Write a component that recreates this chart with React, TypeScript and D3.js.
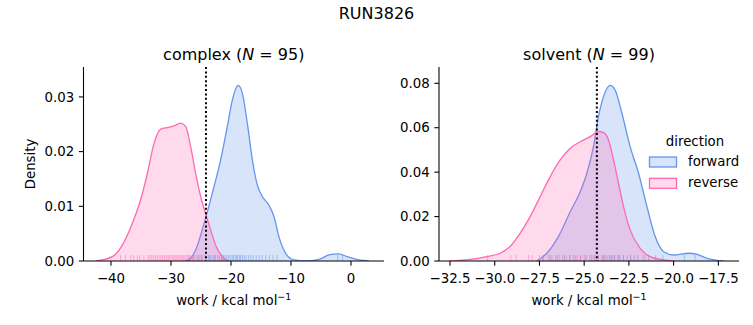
import React from "react";
import * as d3 from "d3";

// ---------- data ----------
const suptitle = "RUN3826";
const directions = ["forward", "reverse"];
const colors = ["#6495ED", "#FF69B4"];

// complex panel density curves [work, density]
const complexForward: [number, number][] = [
  [-27.6, 0], [-27.0, 0.0002], [-25.9, 0.002], [-24.17, 0.0081], [-22.83, 0.0136], [-21.72, 0.0185],
  [-20.61, 0.0246], [-19.78, 0.0294], [-18.83, 0.0321], [-18.11, 0.0307], [-17.28, 0.0252],
  [-16.44, 0.0185], [-15.61, 0.0139], [-14.78, 0.0118], [-13.67, 0.0102], [-12.83, 0.0081],
  [-12.0, 0.0044], [-10.89, 0.0014], [-9.5, 0.0002], [-7.56, 0], [-5.33, 0.0003], [-3.67, 0.0011],
  [-2.11, 0.0013], [-0.61, 0.0008], [1.33, 0.0002], [3.0, 0],
];
const complexReverse: [number, number][] = [
  [-42.56, 0], [-39.78, 0.0008], [-38.11, 0.0029], [-36.44, 0.0069], [-35.06, 0.0112], [-33.94, 0.016],
  [-32.83, 0.0215], [-31.72, 0.0241], [-30.61, 0.0244], [-29.5, 0.0247], [-28.39, 0.0252],
  [-27.56, 0.0246], [-26.72, 0.0209], [-25.89, 0.016], [-25.06, 0.0118], [-24.22, 0.0086],
  [-23.39, 0.0057], [-22.56, 0.0029], [-21.44, 0.0008], [-20.33, 0],
];
// solvent panel density curves
const solventForward: [number, number][] = [
  [-27.65, 0], [-27.09, 0.0035], [-26.44, 0.011], [-25.78, 0.0222], [-25.22, 0.0312], [-24.85, 0.0395],
  [-24.48, 0.0515], [-24.2, 0.065], [-23.92, 0.074], [-23.55, 0.0791], [-23.27, 0.077],
  [-22.89, 0.0665], [-22.43, 0.0515], [-21.96, 0.0395], [-21.49, 0.0245], [-21.03, 0.011],
  [-20.56, 0.0042], [-20.0, 0.0027], [-19.16, 0.0035], [-18.69, 0.003], [-18.13, 0.0012],
  [-17.57, 0.0003], [-17.2, 0],
];
const solventReverse: [number, number][] = [
  [-32.5, 0], [-31.38, 0.0007], [-30.45, 0.002], [-29.7, 0.0035], [-29.14, 0.0065], [-28.58, 0.0125],
  [-28.02, 0.02], [-27.46, 0.029], [-26.9, 0.038], [-26.34, 0.0455], [-25.78, 0.0508],
  [-25.22, 0.0537], [-24.66, 0.056], [-24.2, 0.0583], [-23.92, 0.0578], [-23.64, 0.0545],
  [-23.36, 0.0455], [-23.08, 0.035], [-22.8, 0.0245], [-22.43, 0.014], [-21.87, 0.0057],
  [-21.31, 0.002], [-20.56, 0.0005], [-20.0, 0],
];

// rug samples
const complexForwardRug = [-27.0, -26.2, -25.5, -24.9, -24.3, -23.8, -23.4, -23.0, -22.6, -22.2, -21.9, -21.6, -21.3, -21.0, -20.7, -20.4, -20.1, -19.8, -19.6, -19.3, -19.1, -18.9, -18.6, -18.4, -18.1, -17.8, -17.5, -17.1, -16.7, -16.3, -15.8, -15.3, -14.8, -14.2, -13.6, -13.0, -12.3, -2.2, -1.4];
const complexReverseRug = [-38.4, -37.6, -36.7, -36.2, -35.6, -35.2, -34.5, -33.8, -33.5, -33.2, -32.9, -32.6, -32.3, -32.0, -31.7, -31.4, -31.1, -30.8, -30.5, -30.3, -30.0, -29.7, -29.5, -29.2, -29.0, -28.7, -28.5, -28.2, -28.0, -27.8, -27.5, -27.3, -27.0, -26.7, -26.4, -26.0, -25.6, -25.2, -24.8, -24.3, -23.6, -22.8, -21.4];
const solventForwardRug = [-27.3, -26.9, -26.5, -26.1, -25.8, -25.5, -25.2, -24.9, -24.6, -24.4, -24.2, -24.0, -23.9, -23.8, -23.6, -23.5, -23.4, -23.3, -23.1, -23.0, -22.8, -22.6, -22.4, -22.2, -22.0, -21.7, -21.4, -21.0, -20.6, -19.4, -18.8];
const solventReverseRug = [-30.4, -29.1, -28.8, -28.1, -27.9, -27.5, -27.3, -27.0, -26.8, -26.6, -26.4, -26.2, -26.0, -25.8, -25.6, -25.4, -25.2, -25.0, -24.9, -24.7, -24.5, -24.4, -24.2, -24.0, -23.9, -23.7, -23.5, -23.3, -23.1, -22.8, -22.4, -21.6];

const panelNames = ["complex", "solvent"];
const panelN = [95, 99];
const refLines = [-24.17, -24.29];
const complexXTicks = [-40, -30, -20, -10, 0];
const solventXTicks = [-32.5, -30, -27.5, -25, -22.5, -20, -17.5];
const complexYTicks = [0, 0.01, 0.02, 0.03];
const solventYTicks = [0, 0.02, 0.04, 0.06, 0.08];

// ---------- layout ----------
const W = 753;
const H = 325;
const FONT = "DejaVu Sans, sans-serif";
const FS = 13.33;
const TFS = 16;

type PanelCfg = {
  name: string;
  n: number;
  x0: number;
  x1: number;
  xDom: [number, number];
  yDom: [number, number];
  xTicks: number[];
  yTicks: number[];
  xFmt: (v: number) => string;
  curves: [number, number][][];
  rugs: number[][];
  ref: number;
  ylabel: boolean;
};

const minus = (s: string) => s.replace("-", "\u2212");

const panels: PanelCfg[] = [
  {
    name: panelNames[0], n: panelN[0], x0: 83.5, x1: 384, xDom: [-44.58, 5.5], yDom: [0, 0.03547],
    xTicks: complexXTicks, yTicks: complexYTicks, xFmt: (v) => minus(d3.format("d")(v)),
    curves: [complexForward, complexReverse], rugs: [complexForwardRug, complexReverseRug],
    ref: refLines[0], ylabel: true,
  },
  {
    name: panelNames[1], n: panelN[1], x0: 439, x1: 739, xDom: [-33.115, -16.345], yDom: [0, 0.08734],
    xTicks: solventXTicks, yTicks: solventYTicks, xFmt: (v) => minus(d3.format(".1f")(v)),
    curves: [solventForward, solventReverse], rugs: [solventForwardRug, solventReverseRug],
    ref: refLines[1], ylabel: false,
  },
];

const Y0 = 67;
const Y1 = 261;

function Panel({ p, idx }: { p: PanelCfg; idx: number }) {
  const x = d3.scaleLinear().domain(p.xDom).range([p.x0, p.x1]);
  const y = d3.scaleLinear().domain(p.yDom).range([Y1, Y0]);
  const area = d3.area<[number, number]>().x((d) => x(d[0])).y0(y(0)).y1((d) => y(d[1])).curve(d3.curveMonotoneX);
  const line = d3.line<[number, number]>().x((d) => x(d[0])).y((d) => y(d[1])).curve(d3.curveMonotoneX);
  const cx = (p.x0 + p.x1) / 2;
  const clipId = `clip${idx}`;
  return (
    <g>
      <defs>
        <clipPath id={clipId}>
          <rect x={p.x0} y={Y0} width={p.x1 - p.x0} height={Y1 - Y0} />
        </clipPath>
      </defs>
      <g clipPath={`url(#${clipId})`}>
        {p.curves.map((c, i) => (
          <g key={i}>
            <path d={area(c) || ""} fill={colors[i]} fillOpacity={0.25} stroke="none" />
            <path d={line(c) || ""} fill="none" stroke={colors[i]} strokeWidth={1.3} />
          </g>
        ))}
        {p.rugs.map((r, i) =>
          r.map((v, j) => (
            <line key={`${i}-${j}`} x1={x(v)} x2={x(v)} y1={Y1} y2={Y1 - 6} stroke={colors[i]} strokeWidth={1} strokeOpacity={0.5} />
          ))
        )}
        <line x1={x(p.ref)} x2={x(p.ref)} y1={Y0} y2={Y1} stroke="black" strokeWidth={2} strokeDasharray="2,2.4" />
      </g>
      {/* spines */}
      <line x1={p.x0} x2={p.x0} y1={Y0} y2={Y1} stroke="black" strokeWidth={1.07} />
      <line x1={p.x0} x2={p.x1} y1={Y1} y2={Y1} stroke="black" strokeWidth={1.07} />
      {/* x ticks */}
      {p.xTicks.map((t) => (
        <g key={t}>
          <line x1={x(t)} x2={x(t)} y1={Y1} y2={Y1 + 4.67} stroke="black" strokeWidth={1.07} />
          <text x={x(t)} y={Y1 + 22} textAnchor="middle" fontSize={FS} fontFamily={FONT}>
            {p.xFmt(t)}
          </text>
        </g>
      ))}
      {/* y ticks */}
      {p.yTicks.map((t) => (
        <g key={t}>
          <line x1={p.x0 - 4.67} x2={p.x0} y1={y(t)} y2={y(t)} stroke="black" strokeWidth={1.07} />
          <text x={p.x0 - 9.3} y={y(t)} dy="0.35em" textAnchor="end" fontSize={FS} fontFamily={FONT}>
            {d3.format(".2f")(t)}
          </text>
        </g>
      ))}
      {/* title */}
      <text x={cx} y={60} textAnchor="middle" fontSize={TFS} fontFamily={FONT}>
        {p.name} (<tspan fontStyle="italic">N</tspan> = {p.n})
      </text>
      {/* x label */}
      <text x={cx} y={305} textAnchor="middle" fontSize={FS} fontFamily={FONT}>
        work / kcal mol<tspan dy={-5} fontSize={9.5}>{"\u22121"}</tspan>
      </text>
      {p.ylabel && (
        <text transform={`translate(35,${(Y0 + Y1) / 2}) rotate(-90)`} textAnchor="middle" fontSize={FS} fontFamily={FONT}>
          Density
        </text>
      )}
    </g>
  );
}

export default function App() {
  return (
    <svg width={W} height={H} style={{ display: "block", position: "absolute", left: 0, top: 0 }} xmlns="http://www.w3.org/2000/svg">
      <rect width={W} height={H} fill="white" />
      <text x={W / 2} y={19} textAnchor="middle" fontSize={TFS} fontFamily={FONT}>
        {suptitle}
      </text>
      {panels.map((p, i) => (
        <Panel key={i} p={p} idx={i} />
      ))}
      {/* legend */}
      <g fontFamily={FONT} fontSize={FS}>
        <text x={695} y={141} dy="0.35em" textAnchor="middle">direction</text>
        {directions.map((d, i) => (
          <g key={d} transform={`translate(0,${i * 21.3})`}>
            <rect x={649.5} y={157} width={27} height={10} fill={colors[i]} fillOpacity={0.25} stroke={colors[i]} strokeWidth={1.3} />
            <text x={688} y={161.5} dy="0.35em">{d}</text>
          </g>
        ))}
      </g>
    </svg>
  );
}
